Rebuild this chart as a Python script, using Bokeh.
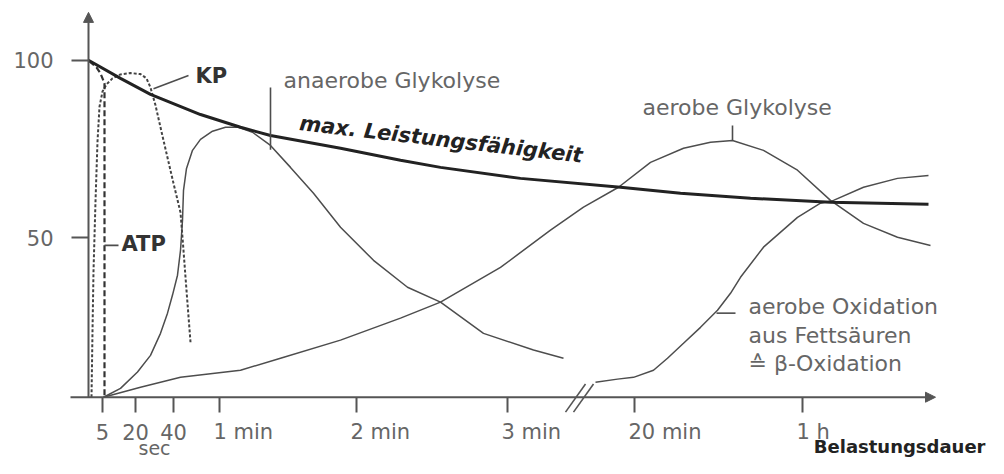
from bokeh.plotting import figure
from bokeh.models import Range1d, FixedTicker, Arrow, NormalHead
from bokeh.core.properties import value
from bokeh.embed import file_html
from bokeh.resources import INLINE

# ---- data (x: position along the schematic time axis, y: % of maximum) ----
baseline = 5
axis_top = 113.5
axis_right = 847
axis_left = -18
break_x = 491

tick_pos = [14, 47, 85, 131, 268, 419, 546, 714]
tick_labels = ["5", "20", "40", "1 min", "2 min", "3 min", "20 min", "1 h"]
y_ticks = [50, 100]

max_x = [0, 32, 62, 112, 152, 182, 252, 312, 352, 432, 532, 592, 662, 742, 840]
max_y = [100, 94.9, 90.4, 84.7, 81.1, 78.8, 75.2, 71.8, 69.8, 66.7, 64.2, 62.5, 61.1, 60.0, 59.4]

atp_x = [1, 8, 12, 16, 16]
atp_y = [99.7, 98.0, 96.3, 93.5, 5]

kp_x = [3, 4, 5, 7, 9, 11, 14, 18, 24, 32, 42, 52, 58, 62, 67, 75, 85, 92, 95, 98, 102]
kp_y = [5, 23.6, 40.5, 60.2, 77.1, 86.9, 91.2, 93.2, 94.9, 96.0, 96.4, 96.1, 94.9, 92.3,
        87.3, 77.4, 65.3, 57.1, 46.4, 35.1, 20.5]

anaer_x = [15, 32, 49, 62, 72, 79, 84, 89, 92, 94, 95, 98, 104, 112, 124, 137, 150, 164,
           182, 202, 225, 252, 285, 319, 352, 395, 445, 475]
anaer_y = [5, 7.5, 12.1, 16.8, 23.0, 28.7, 33.8, 39.4, 46.4, 54.9, 63.3, 69.5, 74.6, 77.7,
           80.0, 81.1, 81.1, 79.7, 76.0, 69.8, 62.5, 52.9, 43.6, 36.0, 31.8, 23.0, 18.3, 16.0]

aer_x = [15, 52, 92, 152, 192, 252, 312, 352, 412, 462, 495, 530, 562, 595, 622, 644, 675,
         709, 742, 775, 809, 842]
aer_y = [5, 7.8, 10.6, 12.6, 16.0, 21.1, 27.3, 31.8, 41.6, 52.1, 58.6, 64.2, 71.2, 75.2,
         76.9, 77.4, 74.6, 69.0, 60.5, 54.0, 50.1, 47.8]

beta_x = [507, 529, 545, 565, 579, 595, 612, 629, 642, 652, 675, 709, 732, 745, 775, 809, 840]
beta_y = [9.2, 10.1, 10.6, 12.6, 16.0, 20.2, 24.7, 29.5, 34.3, 38.8, 47.3, 55.7, 59.7,
          60.5, 64.2, 66.7, 67.5]

# ---- figure ----
FONT = value("DejaVu Sans")
GRAY = "#666666"
AX = "#555555"
MID = "middle"

p = figure(width=988, height=458, x_range=Range1d(-88, 900), y_range=Range1d(-12.28, 116.85),
           output_backend="svg", toolbar_location=None)
p.min_border_left = 0
p.min_border_right = 0
p.min_border_top = 0
p.min_border_bottom = 0
p.outline_line_color = None
p.grid.visible = False

p.xaxis.fixed_location = baseline
p.yaxis.fixed_location = 0
p.xaxis.ticker = FixedTicker(ticks=tick_pos)
p.yaxis.ticker = FixedTicker(ticks=y_ticks)
p.xaxis.major_label_overrides = {t: "" for t in tick_pos}
for ax in (p.xaxis, p.yaxis):
    ax.axis_line_color = None
    ax.major_tick_line_color = AX
    ax.major_tick_line_width = 2
    ax.major_tick_in = 0
    ax.minor_tick_line_color = None
p.xaxis.major_tick_out = 15
p.yaxis.major_tick_out = 17
p.yaxis.major_label_standoff = 18
p.yaxis.major_label_text_font = "DejaVu Sans"
p.yaxis.major_label_text_font_size = "21px"
p.yaxis.major_label_text_color = GRAY

# axis lines with arrow heads
p.add_layout(Arrow(end=NormalHead(size=10, fill_color=AX, line_color=AX),
                   x_start=0, y_start=baseline, x_end=0, y_end=axis_top,
                   line_color=AX, line_width=2))
p.add_layout(Arrow(end=NormalHead(size=10, fill_color=AX, line_color=AX),
                   x_start=axis_left, y_start=baseline, x_end=axis_right, y_end=baseline,
                   line_color=AX, line_width=2))

# axis break
p.segment(x0=[break_x - 14, break_x - 6], y0=[0.8, 0.8],
          x1=[break_x + 6, break_x + 14], y1=[8.7, 8.7], line_color=AX, line_width=1.6)

# x tick labels
num = [i for i, t in enumerate(tick_labels) if " " not in t]
unit = [i for i, t in enumerate(tick_labels) if " " in t]
p.text(x=[tick_pos[i] for i in num], y=[baseline] * len(num),
       text=[tick_labels[i] for i in num], text_align="center", text_baseline=MID,
       y_offset=35, text_font=FONT, text_font_size="21px", text_color=GRAY)
p.text(x=[tick_pos[i] for i in unit], y=[baseline] * len(unit),
       text=[tick_labels[i] for i in unit], text_align="left", text_baseline=MID,
       x_offset=-6, y_offset=35, text_font=FONT, text_font_size="21px", text_color=GRAY)
p.text(x=[(tick_pos[1] + tick_pos[2]) / 2], y=[baseline], text=["sec"], text_align="center",
       text_baseline=MID, y_offset=51, text_font=FONT, text_font_size="19px",
       text_color=GRAY)
p.text(x=[897], y=[baseline], text=["Belastungsdauer"], text_align="right",
       text_baseline=MID, y_offset=49, text_font=FONT, text_font_size="18px",
       text_font_style="bold", text_color="#222222")

# curves
THIN = "#4d4d4d"
p.line(aer_x, aer_y, line_color=THIN, line_width=1.5)
p.line(beta_x, beta_y, line_color=THIN, line_width=1.5)
p.line(anaer_x, anaer_y, line_color=THIN, line_width=1.5)
p.line(kp_x, kp_y, line_color="#444444", line_width=2, line_dash="3 2")
p.line(atp_x, atp_y, line_color="#333333", line_width=2.2, line_dash="6 3")
p.line(max_x, max_y, line_color="#222222", line_width=3)

# leader lines
p.segment(x0=[65, 16, 182, 644, 628], y0=[92.0, 47.8, 74.8, 77.4, 28.7],
          x1=[100, 30, 182, 644, 647], y1=[95.7, 47.8, 92.3, 81.6, 28.7],
          line_color=THIN, line_width=1.6)

# labels
p.text(x=[107], y=[95.7], text=["KP"], text_baseline=MID, text_font=FONT,
       text_font_size="21px", text_font_style="bold", text_color="#333333")
p.text(x=[33], y=[48.1], text=["ATP"], text_baseline=MID, text_font=FONT,
       text_font_size="21px", text_font_style="bold", text_color="#333333")
p.text(x=[195], y=[94.4], text=["anaerobe Glykolyse"], text_baseline=MID,
       text_font=FONT, text_font_size="22px", text_color=GRAY)
p.text(x=[554], y=[86.8], text=["aerobe Glykolyse"], text_baseline=MID,
       text_font=FONT, text_font_size="22px", text_color=GRAY)
p.text(x=[211], y=[82.3], text=["max. Leistungsfähigkeit"], angle=-0.115,
       text_baseline=MID, text_font=FONT, text_font_size="21px",
       text_font_style="bold italic", text_color="#222222")
p.text(x=[660, 660, 660], y=[30.5, 22.5, 14.6],
       text=["aerobe Oxidation", "aus Fettsäuren", "≙ β-Oxidation"],
       text_baseline=MID, text_font=FONT, text_font_size="22px", text_color=GRAY)

open("out.html", "w").write(file_html(p, INLINE))
